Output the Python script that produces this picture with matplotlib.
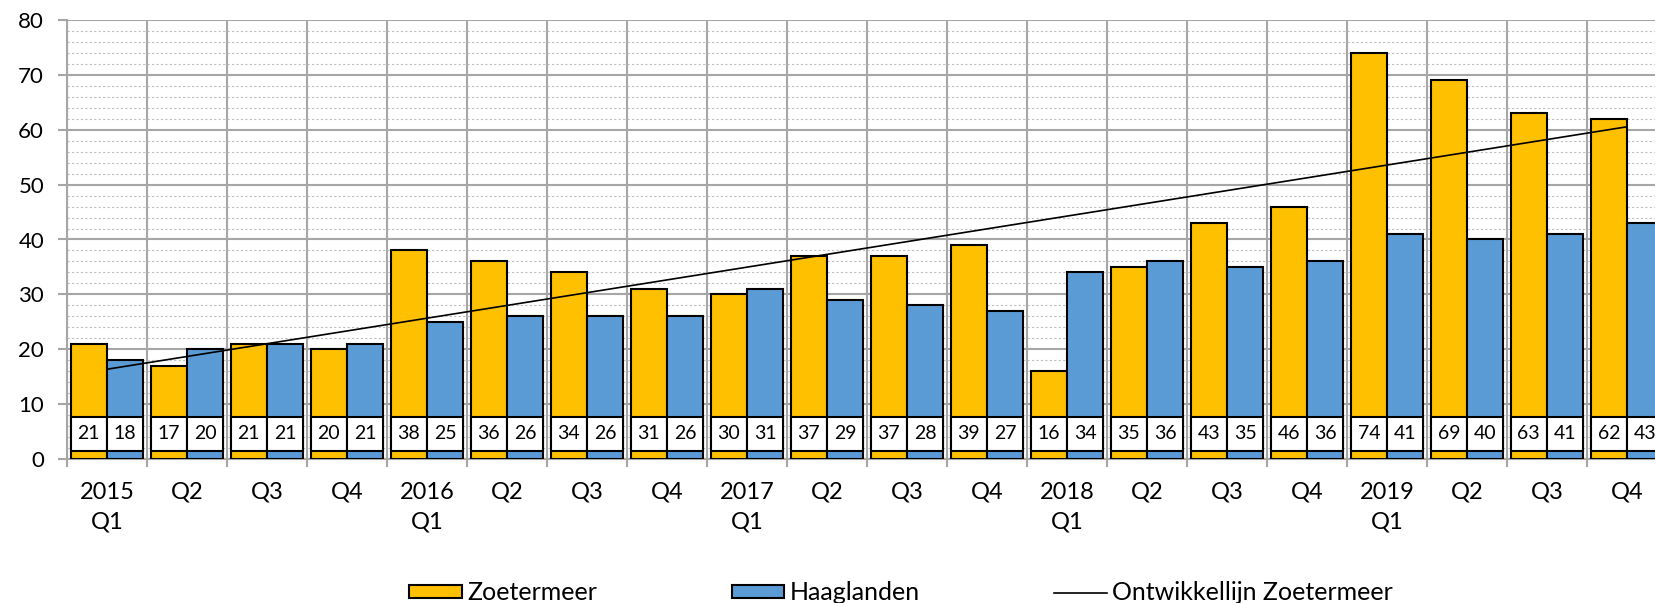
import matplotlib
matplotlib.use('Agg')
import matplotlib.pyplot as plt
from matplotlib.patches import Patch
from matplotlib.lines import Line2D
from matplotlib.ticker import MultipleLocator, FixedLocator
import numpy as np

quarters = ["2015\nQ1", "Q2", "Q3", "Q4",
            "2016\nQ1", "Q2", "Q3", "Q4",
            "2017\nQ1", "Q2", "Q3", "Q4",
            "2018\nQ1", "Q2", "Q3", "Q4",
            "2019\nQ1", "Q2", "Q3", "Q4"]
zoetermeer = [21, 17, 21, 20, 38, 36, 34, 31, 30, 37, 37, 39, 16, 35, 43, 46, 74, 69, 63, 62]
haaglanden = [18, 20, 21, 21, 25, 26, 26, 26, 31, 29, 28, 27, 34, 36, 35, 36, 41, 40, 41, 43]
series_names = ["Zoetermeer", "Haaglanden", "Ontwikkellijn Zoetermeer"]

plt.rcParams['font.family'] = ['Lato', 'DejaVu Sans']

YELLOW = '#FFC000'
BLUE = '#5B9BD5'
GRID = '#A6A6A6'

fig = plt.figure(figsize=(16.55, 6.03), dpi=100)
ax = fig.add_axes([67/1655, 144/603, 1600/1655, 439/603])

x = np.arange(len(quarters))
w = 0.456
ax.bar(x - w/2, zoetermeer, w, color=YELLOW, edgecolor='black', linewidth=1.5, zorder=3)
ax.bar(x + w/2, haaglanden, w, color=BLUE, edgecolor='black', linewidth=1.5, zorder=3)

box_bottom, box_top = 1.5, 7.7
for xs, vals in ((x - w/2, zoetermeer), (x + w/2, haaglanden)):
    ax.bar(xs, box_top - box_bottom, w, bottom=box_bottom, color='white',
           edgecolor='black', linewidth=1.5, zorder=4)
    for xi, v in zip(xs, vals):
        ax.text(xi, (box_top + box_bottom) / 2, str(v), ha='center', va='center',
                fontsize=14, zorder=5)

coef = np.polyfit(x, zoetermeer, 1)
ax.plot(x, np.polyval(coef, x), color='black', lw=1.2, zorder=6)

ax.set_xlim(-0.5, len(x) - 0.5)
ax.set_ylim(0, 80)

ax.set_xticks(x)
ax.set_xticklabels(quarters, fontsize=17)
for lbl in ax.get_xticklabels():
    lbl.set_linespacing(1.5)
ax.xaxis.set_minor_locator(FixedLocator(np.arange(-0.5, len(x), 1.0)))
ax.tick_params(axis='x', which='major', length=0, pad=16.5)
ax.tick_params(axis='x', which='minor', length=6, color=GRID, width=1.5)

ax.yaxis.set_major_locator(MultipleLocator(10))
ax.yaxis.set_minor_locator(MultipleLocator(2))
ax.tick_params(axis='y', which='major', length=6.5, color=GRID, width=1.5, pad=10, labelsize=16)
ax.tick_params(axis='y', which='minor', length=0)

ax.xaxis.grid(True, which='minor', color=GRID, lw=1.5, zorder=0)
ax.yaxis.grid(True, which='major', color=GRID, lw=1.5, zorder=0)
ax.yaxis.grid(True, which='minor', color='#BFBFBF', lw=0.8, ls=(0, (2, 2)), zorder=0)
ax.set_axisbelow(True)

for s in ('top', 'right'):
    ax.spines[s].set_visible(False)
for s in ('left', 'bottom'):
    ax.spines[s].set_color(GRID)
    ax.spines[s].set_linewidth(1.5)

handles = [Patch(facecolor=YELLOW, edgecolor='black', linewidth=1.5),
           Patch(facecolor=BLUE, edgecolor='black', linewidth=1.5),
           Line2D([0], [0], color='black', lw=1.2)]
fig.legend(handles, series_names, loc='center', bbox_to_anchor=(901/1655, 10/603),
           ncol=3, frameon=False, fontsize=18, handlelength=2.1, handleheight=0.45,
           handletextpad=0.2, columnspacing=5.4)

fig.savefig('out.png', dpi=100)
